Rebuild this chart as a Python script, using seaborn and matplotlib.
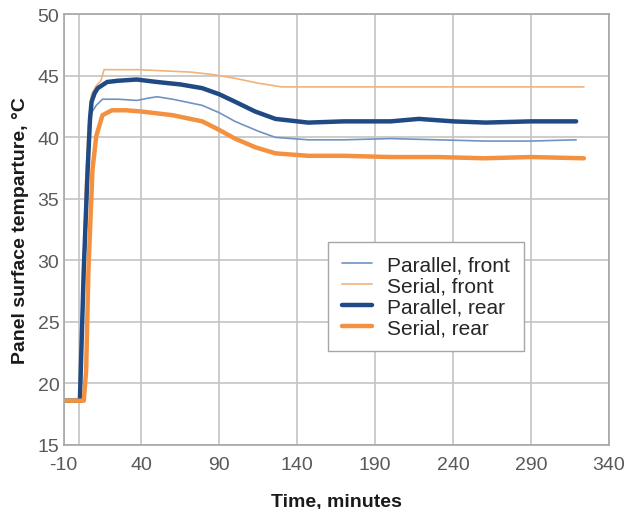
import matplotlib
matplotlib.use("Agg")
import matplotlib.pyplot as plt
import seaborn as sns
import pandas as pd

# Values (time in minutes, temperature in deg C)
par_front_t = [-10, 0.3, 2, 4, 6, 8, 11, 15, 25, 37, 45, 50, 60, 79, 90, 100, 115, 126, 147, 170, 200, 230, 260, 290, 319]
par_front_v = [18.6, 18.6, 25, 35, 40, 42, 42.6, 43.1, 43.1, 43.0, 43.2, 43.3, 43.1, 42.6, 42.0, 41.3, 40.5, 40.0, 39.8, 39.8, 39.9, 39.8, 39.7, 39.7, 39.8]

ser_front_t = [-10, 0.3, 2, 4, 6, 8, 11, 14, 16, 25, 38, 55, 72, 86, 100, 115, 130, 160, 200, 240, 280, 324]
ser_front_v = [18.6, 18.6, 26, 36, 41, 43.5, 44.2, 44.6, 45.5, 45.5, 45.5, 45.4, 45.3, 45.1, 44.8, 44.4, 44.1, 44.1, 44.1, 44.1, 44.1, 44.1]

par_rear_t = [-10, 0.5, 3, 5.5, 7, 8, 10, 12, 18, 25, 37, 50, 65, 79, 90, 100, 113, 126, 147, 170, 200, 218, 240, 261, 290, 319]
par_rear_v = [18.6, 18.6, 29.3, 37.4, 41.5, 42.9, 43.6, 44.0, 44.5, 44.6, 44.7, 44.5, 44.3, 44.0, 43.5, 42.9, 42.1, 41.5, 41.2, 41.3, 41.3, 41.5, 41.3, 41.2, 41.3, 41.3]

ser_rear_t = [-10, 3, 4.5, 6, 8.6, 11, 15, 21, 30, 40, 60, 79, 90, 100, 113, 126, 147, 170, 200, 230, 260, 290, 324]
ser_rear_v = [18.6, 18.6, 21, 29.3, 37.4, 40.1, 41.8, 42.2, 42.2, 42.1, 41.8, 41.3, 40.6, 39.9, 39.2, 38.7, 38.5, 38.5, 38.4, 38.4, 38.3, 38.4, 38.3]

x_ticks = list(range(-10, 341, 50))
y_ticks = list(range(15, 51, 5))

sns.set_style("white")
plt.rcParams['font.family'] = ['Liberation Sans', 'DejaVu Sans']
plt.rcParams['axes.unicode_minus'] = False

fig = plt.figure(figsize=(6.29, 5.10), dpi=100)
ax = fig.add_axes([0.101, 0.1255, 0.867, 0.8445])

series = [
    ("Parallel, front", par_front_t, par_front_v, "#6f93c2", 1.2),
    ("Serial, front", ser_front_t, ser_front_v, "#f2b27a", 1.2),
    ("Parallel, rear", par_rear_t, par_rear_v, "#1f4a85", 3.2),
    ("Serial, rear", ser_rear_t, ser_rear_v, "#f39140", 3.2),
]

for name, t, v, col, lw in series:
    df = pd.DataFrame({"time": t, "temp": v})
    sns.lineplot(data=df, x="time", y="temp", ax=ax, color=col, linewidth=lw, label=name)

ax.set_xlim(-10, 340)
ax.set_ylim(15, 50)
ax.set_xticks(x_ticks)
ax.set_yticks(y_ticks)
ax.grid(True, color="#c4c4c4", linewidth=1.2)
ax.axvline(0, color="#c4c4c4", linewidth=1.2, zorder=0)
ax.set_axisbelow(True)
for s in ax.spines.values():
    s.set_color("#a6a6a6")
    s.set_linewidth(1.2)

ax.tick_params(axis="both", length=0, colors="#595959", labelsize=14)
ax.tick_params(axis="x", pad=8)
ax.tick_params(axis="y", pad=3)

ax.set_xlabel("Time, minutes", fontsize=14, fontweight="bold", color="#1a1a1a", labelpad=14)
ax.set_ylabel("Panel surface temparture, °C", fontsize=14, fontweight="bold", color="#1a1a1a", labelpad=6)

leg = ax.legend(loc="upper left", bbox_to_anchor=(0.485, 0.472), borderaxespad=0, fontsize=15,
                frameon=True, fancybox=False, edgecolor="#a6a6a6", framealpha=1,
                handlelength=1.45, labelspacing=0.1, borderpad=0.65, handletextpad=0.75)
leg.get_frame().set_linewidth(1.0)

fig.savefig("out.png", dpi=100)
